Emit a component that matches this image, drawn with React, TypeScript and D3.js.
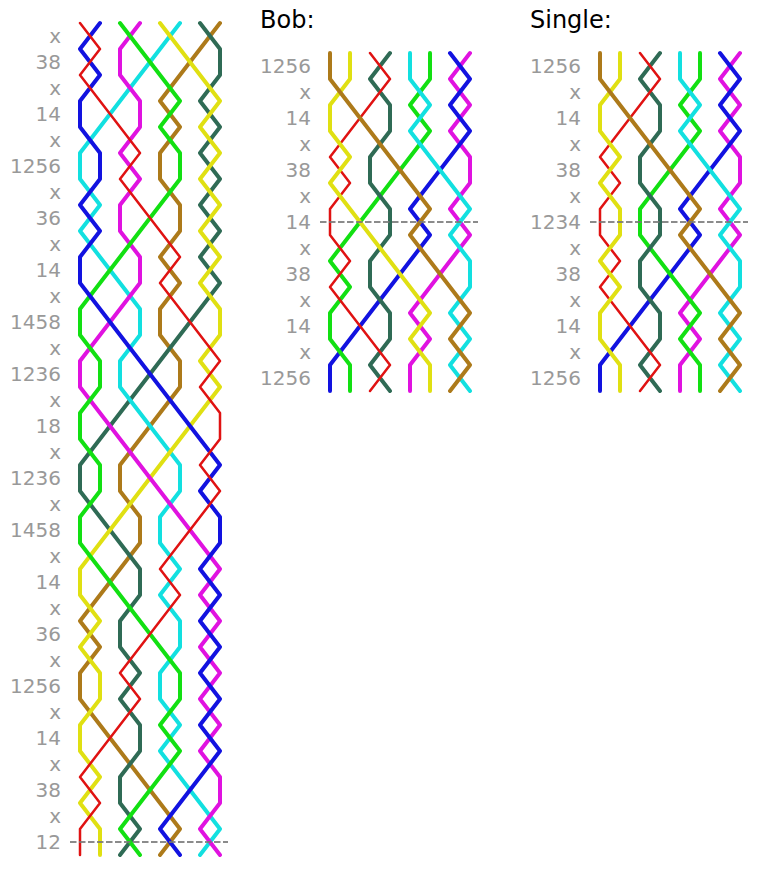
import * as d3 from "d3";
import React from "react";

// place notation of each panel, one entry per change
const leadNotation = [
  "x", "38", "x", "14", "x", "1256", "x", "36", "x", "14", "x", "1458", "x", "1236", "x", "18",
  "x", "1236", "x", "1458", "x", "14", "x", "36", "x", "1256", "x", "14", "x", "38", "x", "12",
];
const bobNotation = ["1256", "x", "14", "x", "38", "x", "14", "x", "38", "x", "14", "x", "1256"];
const singleNotation = ["1256", "x", "14", "x", "38", "x", "1234", "x", "38", "x", "14", "x", "1256"];

// bell in each place on the first row
const leadStart = ["red", "blue", "green", "magenta", "yellow", "cyan", "slate", "brown"];
const callStart = ["brown", "yellow", "red", "slate", "cyan", "green", "blue", "magenta"];

const bellColors: Record<string, string> = {
  red: "#e01212",
  blue: "#1212e0",
  green: "#12e012",
  magenta: "#e012e0",
  yellow: "#e0e012",
  cyan: "#12e0e0",
  slate: "#2f6b55",
  brown: "#ad7a1a",
};

const rowHeight = 26;
const placeWidth = 20;

// apply the notation to the starting row, gives one row per line of the diagram
function ringRows(start: string[], notation: string[]): string[][] {
  const rows = [start];
  notation.forEach((n) => {
    const prev = rows[rows.length - 1];
    const next = [...prev];
    let i = 0;
    while (i < prev.length) {
      if (n !== "x" && n.includes(String(i + 1))) {
        i += 1;
      } else {
        next[i] = prev[i + 1];
        next[i + 1] = prev[i];
        i += 2;
      }
    }
    rows.push(next);
  });
  return rows;
}

interface PanelProps {
  left: number;
  top: number;
  notation: string[];
  start: string[];
  title?: string;
  leadEnd: number; // index of the change carrying the dashed line
}

const Panel: React.FC<PanelProps> = ({ left, top, notation, start, title, leadEnd }) => {
  const rows = ringRows(start, notation);
  const x = d3.scaleLinear().domain([0, 7]).range([left, left + 7 * placeWidth]);
  const y = d3.scaleLinear().domain([0, notation.length]).range([top, top + notation.length * rowHeight]);
  const line = d3
    .line<number>()
    .x((d) => x(d))
    .y((_, i) => y(i));

  // first bell of the row ends up on top
  const drawOrder = [...start].reverse();

  return (
    <g>
      {title && (
        <text x={left - 70} y={28} fontSize={24} fill="#000">
          {title}
        </text>
      )}
      {notation.map((n, i) => (
        <text key={i} x={left - 19} y={y(i + 0.5)} dy="0.36em" textAnchor="end" fontSize={20} fill="#999">
          {n}
        </text>
      ))}
      {drawOrder.map((bell) => (
        <path
          key={bell}
          d={line(rows.map((r) => r.indexOf(bell))) ?? ""}
          fill="none"
          stroke={bellColors[bell]}
          strokeWidth={bell === "red" ? 2.5 : 4}
          strokeLinejoin="round"
          strokeLinecap="round"
        />
      ))}
      <line
        x1={left - 10}
        x2={left + 148}
        y1={y(leadEnd + 0.5)}
        y2={y(leadEnd + 0.5)}
        stroke="#777"
        strokeOpacity={0.85}
        strokeWidth={2}
        strokeDasharray="6.5 2.5"
      />
    </g>
  );
};

export default function App() {
  return (
    <svg
      width={760}
      height={878}
      style={{ position: "absolute", left: 0, top: 0 }}
      fontFamily="DejaVu Sans"
    >
      <Panel left={80} top={23} notation={leadNotation} start={leadStart} leadEnd={31} />
      <Panel left={330} top={53} notation={bobNotation} start={callStart} title="Bob:" leadEnd={6} />
      <Panel left={600} top={53} notation={singleNotation} start={callStart} title="Single:" leadEnd={6} />
    </svg>
  );
}
